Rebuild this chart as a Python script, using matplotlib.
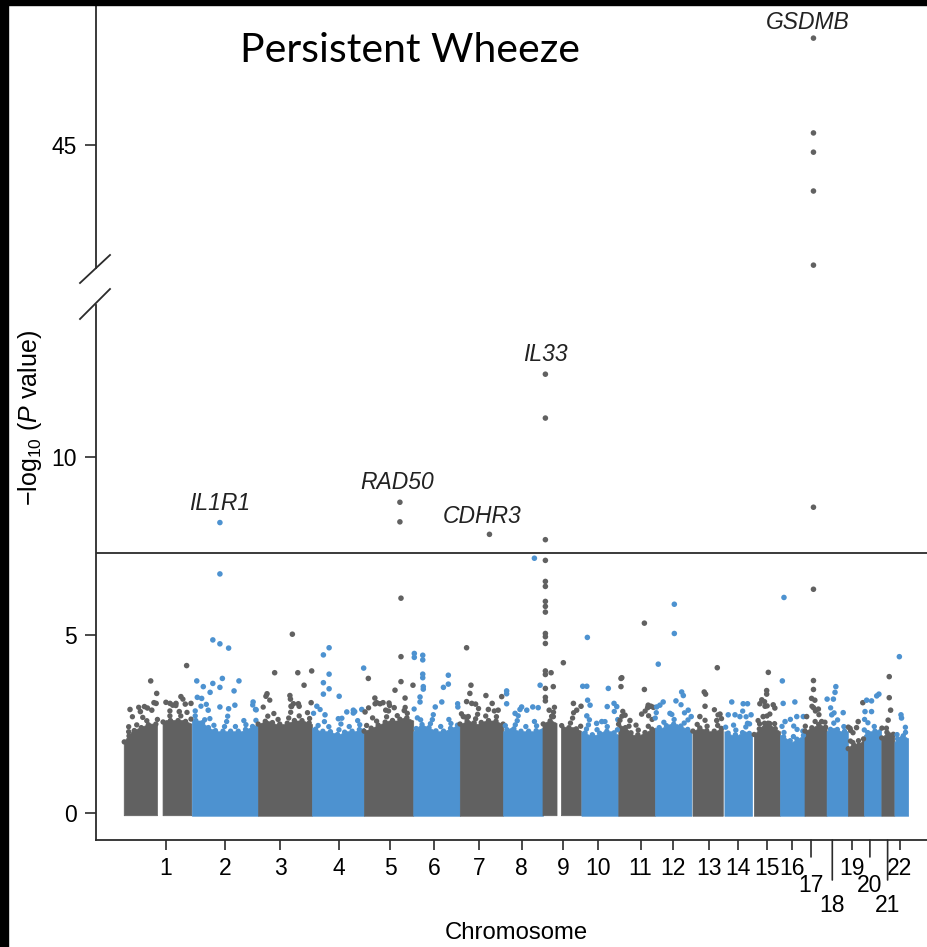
import numpy as np
import matplotlib.pyplot as plt
from matplotlib.lines import Line2D
from matplotlib.patches import Rectangle

plt.rcParams['font.family'] = 'Liberation Sans'
plt.rcParams['mathtext.fontset'] = 'custom'
plt.rcParams['mathtext.rm'] = 'Liberation Sans'
plt.rcParams['mathtext.it'] = 'Liberation Sans:italic'

# hg19 chromosome lengths (Mb)
chrom_len = [249.25, 243.20, 198.02, 191.15, 180.92, 171.12, 159.14, 146.36, 141.21, 135.53, 135.01,
             133.85, 115.17, 107.35, 102.53, 90.35, 81.20, 78.08, 59.13, 63.03, 48.13, 51.30]
# first typed position on each chromosome (Mb)
first_snp = [0.7, 0.1, 0.1, 0.1, 0.1, 0.2, 0.1, 0.2, 0.2, 0.1, 0.2,
             0.2, 4.0, 6.0, 7.0, 0.1, 0.1, 0.1, 0.3, 0.1, 1.0, 1.0]
# stretches with no SNPs (centromere / heterochromatin)
gap_chr = [1, 9]
gap_start = [123.0, 52.0]
gap_end = [143.0, 68.0]

# top of the dense SNP cloud, evenly spaced along each chromosome
cloud_top = [
    [2.0, 2.3, 2.4, 2.5, 2.5, 2.6, 2.6, 2.6, 2.5],
    [2.6, 2.6, 2.4, 2.3, 2.3, 2.3, 2.3, 2.4, 2.5],
    [2.5, 2.6, 2.5, 2.5, 2.6, 2.6, 2.5],
    [2.4, 2.3, 2.3, 2.2, 2.3, 2.3, 2.4],
    [2.3, 2.4, 2.5, 2.6, 2.6, 2.7, 2.6],
    [2.3, 2.5, 2.4, 2.3, 2.3, 2.4, 2.5],
    [2.5, 2.6, 2.5, 2.6, 2.6, 2.5],
    [2.3, 2.4, 2.3, 2.3, 2.3, 2.4],
    [2.5, 2.6, 2.5, 2.4, 2.4, 2.3],
    [2.3, 2.2, 2.2, 2.3, 2.3, 2.2],
    [2.5, 2.4, 2.2, 2.2, 2.3, 2.4],
    [2.4, 2.4, 2.5, 2.5, 2.4, 2.3],
    [2.3, 2.4, 2.3, 2.3, 2.4],
    [2.3, 2.2, 2.2, 2.3, 2.2],
    [2.2, 2.4, 2.6, 2.4, 2.3],
    [2.2, 2.1, 2.0, 2.1, 2.2],
    [2.3, 2.4, 2.5, 2.4],
    [2.3, 2.4, 2.3, 2.3],
    [1.8, 2.0, 1.9, 2.1],
    [2.2, 2.3, 2.3, 2.4],
    [2.1, 2.3, 2.2],
    [2.0, 2.2, 2.1],
]

# SNPs standing out of the cloud: chromosome, position (Mb), -log10 P
hit_chr = ([1] * 18 + [2] * 21 + [3] * 14 + [4] * 16 + [5] * 19 + [6] * 16 + [7] * 14 + [8] * 11
           + [9] * 25 + [10] * 12 + [11] * 12 + [12] * 12 + [13] * 7 + [14] * 8 + [15] * 10
           + [16] * 7 + [17] * 15 + [18] * 6 + [19] * 4 + [20] * 6 + [21] * 4 + [22] * 3)
hit_pos = [22, 60, 75, 86, 98, 102, 110, 120, 118, 154, 169, 179, 191, 203, 209, 225, 230, 246,
           103, 103, 77, 103, 135, 18, 42, 77, 112, 103, 67, 20, 36, 155, 173, 103, 135, 158, 225, 234, 60,
           126, 61, 146, 197, 169, 29, 33, 117, 119, 121, 151, 195, 130, 148,
           63, 42, 63, 42, 63, 42, 100, 18, 48, 128, 152, 190, 183, 97, 152, 157,
           132, 132, 136, 136, 16, 180, 136, 114, 151, 40, 41, 59, 92, 80, 111, 148, 4, 47, 70,
           4, 4, 35, 35, 35, 35, 37, 37, 129, 129, 111, 25, 25, 105, 81, 164,
           109, 25, 41, 25, 44, 58, 96, 119, 141, 154, 13, 31, 105, 37,
           115, 13, 13, 13, 44, 62, 136, 109, 129, 68, 87,
           9, 9, 9, 9, 9, 9, 9, 9, 9, 9, 9, 9, 9, 9, 9, 9, 9, 30, 38, 75, 112, 140, 124, 23, 38,
           22, 5, 20, 23, 32, 99, 95, 130, 20, 56, 75, 120,
           96, 10, 13, 10, 96, 110, 108, 86, 25, 43, 120, 129,
           71, 71, 12, 98, 104, 18, 30, 6, 77, 133, 122, 55,
           95, 47, 52, 50, 105, 31, 93,
           33, 75, 91, 20, 45, 104, 63, 91,
           60, 54, 54, 29, 48, 78, 84, 41, 60, 36,
           15, 9, 12, 55, 19, 62, 86,
           33, 33, 33, 33, 33, 33, 33, 33, 33, 26, 38, 33, 8, 63, 51,
           2, 25, 31, 34, 19, 61,
           8, 32, 38, 55,
           10, 28, 47, 55, 4, 28,
           30, 30, 35, 26,
           19, 25, 27]
hit_logp = [2.91, 2.85, 2.99, 2.95, 3.71, 2.89, 3.10, 3.36, 3.08, 3.11, 3.08, 3.03, 3.08, 2.85, 3.27, 3.06, 4.14, 3.08,
            8.15, 6.71, 4.86, 4.75, 4.63, 3.71, 3.55, 3.64, 3.78, 3.53, 3.39, 3.25, 3.22, 3.43, 3.71, 2.98, 2.93, 3.03, 3.12, 2.91, 2.89,
            5.02, 3.94, 3.94, 3.99, 3.59, 3.28, 3.35, 3.30, 3.20, 3.00, 3.00, 3.10, 3.07, 3.07,
            4.64, 4.44, 3.90, 3.66, 3.49, 3.34, 3.28, 3.00, 2.76, 2.84, 2.81, 4.07, 2.91, 2.65, 2.89, 2.85,
            8.72, 8.17, 6.03, 4.39, 3.78, 3.59, 3.69, 3.45, 3.23, 3.23, 3.07, 3.07, 3.09, 2.89, 2.96, 2.88, 2.84, 3.10, 3.10,
            4.48, 4.37, 4.43, 4.30, 3.90, 3.80, 3.55, 3.48, 3.87, 3.62, 3.53, 3.26, 3.12, 3.12, 2.98, 2.98,
            7.82, 4.64, 3.59, 3.13, 3.08, 3.06, 3.30, 3.08, 2.89, 3.27, 2.71, 2.71, 2.91, 3.36,
            7.15, 3.43, 3.35, 3.07, 2.80, 2.91, 3.59, 2.98, 2.96, 2.98, 2.89,
            12.31, 11.08, 7.67, 7.09, 6.50, 6.36, 5.94, 5.80, 5.64, 5.04, 4.95, 4.76, 3.99, 3.89, 3.50, 3.25, 3.15,
            3.94, 3.55, 4.22, 3.08, 3.00, 2.89, 2.89, 2.71,
            4.93, 3.56, 3.56, 3.17, 3.03, 3.50, 2.99, 2.99, 2.73, 2.52, 2.57, 3.08,
            5.33, 3.78, 3.80, 3.55, 3.47, 3.03, 2.96, 2.78, 2.75, 2.60, 3.00, 2.97,
            5.86, 5.04, 4.18, 3.40, 3.30, 3.03, 3.12, 2.98, 3.15, 2.71, 2.89, 2.80,
            4.08, 3.40, 3.34, 3.00, 2.78, 2.71, 2.60,
            3.12, 3.07, 3.07, 2.76, 2.76, 2.76, 2.71, 2.52,
            3.95, 3.44, 3.34, 3.07, 3.00, 3.04, 2.95, 2.71, 2.52, 3.18,
            6.05, 3.71, 3.08, 3.12, 2.57, 2.71, 2.71,
            48.00, 45.34, 44.80, 43.71, 41.63, 8.58, 6.28, 3.72, 3.47, 3.22, 3.17, 2.96, 2.71, 2.57, 2.92,
            3.20, 3.20, 3.39, 3.55, 2.76, 2.82,
            2.38, 2.40, 2.57, 3.10,
            3.17, 3.15, 3.29, 3.34, 2.85, 2.85,
            3.83, 3.24, 2.89, 2.61,
            4.39, 2.76, 2.67]

# chromosome tick positions (Mb into each chromosome)
tick_pos = [154, 122, 81, 99, 96, 76, 70, 68, 75, 62, 82, 67, 66, 55, 54, 45, 24, 21, 14, 22, 24, 21]
# labels pushed down one or two rows where the chromosomes get narrow
tick_row = [0] * 16 + [1, 2, 0, 1, 2, 0]

gene_names = ['IL1R1', 'RAD50', 'CDHR3', 'IL33', 'GSDMB']
gene_chr = [2, 5, 7, 9, 17]
gene_pos = [103, 132, 109, 9, 33]
gene_logp = [8.15, 8.72, 7.82, 12.31, 48.00]
gene_dx = [0, -2, -5, 0, -4]
gene_dy = [14, 14, 12.5, 14, 11.5]

sig_line = 7.3
colors = ['#616161', '#4d92d0']
ink = '#2b2b2b'

W, H = 928, 947
def fx(px):
    return px / W
def fy(py):
    return 1 - py / H

offsets = np.concatenate([[0], np.cumsum(chrom_len)[:-1]])
hit_x = np.array([offsets[c - 1] + p for c, p in zip(hit_chr, hit_pos)])
hit_y = np.array(hit_logp)
hit_col = [colors[(c - 1) % 2] for c in hit_chr]

fig = plt.figure(figsize=(W / 100, H / 100), dpi=100)
ax = fig.add_axes([fx(96), fy(840), 1 - fx(96), fy(305) - fy(840)])
ax_top = fig.add_axes([fx(96), fy(268), 1 - fx(96), fy(0) - fy(268)])

xlim = (-103, 2954)
for a in (ax, ax_top):
    a.set_xlim(*xlim)
    a.spines['top'].set_visible(False)
    a.spines['right'].set_visible(False)
    a.spines['left'].set_linewidth(1.3)
    a.spines['left'].set_color(ink)
    a.tick_params(axis='y', length=8, width=1.2, color=ink, labelsize=16.5, pad=6)
ax.set_ylim(-0.75, 14.25)
ax_top.set_ylim(41.55, 49.07)
ax_top.spines['bottom'].set_visible(False)
ax_top.set_xticks([])
ax.set_yticks([0, 5, 10])
ax_top.set_yticks([45])
ax.spines['bottom'].set_linewidth(1.3)
ax.spines['bottom'].set_color(ink)

# dense cloud of non-significant SNPs, with a beaded fringe along its top
# (lift above the cloud, spacing between beads, dash phase)
fringe = [(0.0, 1.4, 0.0), (0.13, 2.0, 0.7), (0.27, 3.2, 1.9), (0.42, 5.5, 3.1), (0.6, 9.0, 5.3)]
for i in range(22):
    start = offsets[i]
    col = colors[i % 2]
    env_x = start + np.linspace(first_snp[i], chrom_len[i], len(cloud_top[i]))
    xs = np.linspace(start + first_snp[i], start + chrom_len[i], 400)
    ys = np.interp(xs, env_x, cloud_top[i])
    keep = np.ones(xs.size, bool)
    for gc, gs, ge in zip(gap_chr, gap_start, gap_end):
        if gc == i + 1:
            keep &= ~((xs > start + gs) & (xs < start + ge))
    ax.fill_between(xs, -0.07, ys, where=keep, facecolor=col, edgecolor=col, lw=0.5)
    for lift, gap, phase in fringe:
        ax.plot(xs, np.ma.masked_where(~keep, ys + lift), color=col, lw=3.9,
                ls=(phase + i * 0.7, (0.01, gap)), dash_capstyle='round', zorder=2)

for a in (ax, ax_top):
    a.scatter(hit_x, hit_y, s=16, c=hit_col, lw=0, zorder=3)

ax.axhline(sig_line, color=ink, lw=1.3, zorder=2)

for name, c, p, lp, dx, dy in zip(gene_names, gene_chr, gene_pos, gene_logp, gene_dx, gene_dy):
    target = ax_top if lp > 20 else ax
    target.annotate(name, (offsets[c - 1] + p, lp), xytext=(dx, dy), textcoords='offset points',
                    ha='center', va='center', style='italic', size=16.5, color='#222222',
                    annotation_clip=False)

# chromosome ticks, staggered at the crowded end
tick_x = offsets + np.array(tick_pos)
labels = [str(i + 1) for i in range(22)]
ax.set_xticks([x for x, r in zip(tick_x, tick_row) if r == 0],
              [l for l, r in zip(labels, tick_row) if r == 0])
ax.tick_params(axis='x', length=7.5, width=1.2, color=ink, labelsize=16.5, pad=5)
for x, l, r in zip(tick_x, labels, tick_row):
    if r == 0:
        continue
    tick_len = 12.2 if r == 1 else 28.8
    text_off = 32.4 if r == 1 else 46.8
    ax.annotate('', xy=(x, 0), xycoords=('data', 'axes fraction'), xytext=(0, -tick_len),
                textcoords='offset points',
                arrowprops=dict(arrowstyle='-', lw=1.2, color=ink, shrinkA=0, shrinkB=0))
    ax.annotate(l, xy=(x, 0), xycoords=('data', 'axes fraction'), xytext=(0, -text_off),
                textcoords='offset points', ha='center', va='center', size=16.5)

# axis break marks
for y0, y1 in [(283, 255), (319, 289)]:
    fig.add_artist(Line2D([fx(80), fx(110)], [fy(y0), fy(y1)], color=ink, lw=1.3))

fig.text(fx(30), fy(418), '\u2212log$_{10}$ ($P$ value)', rotation=90, ha='center', va='center', size=18)
fig.text(fx(516), fy(933), 'Chromosome', ha='center', va='center', size=17.2)
fig.text(fx(410), fy(62), 'Persistent Wheeze', family='Lato', size=29.5, ha='center', va='baseline')

# dark frame along the top and left edges
fig.add_artist(Rectangle((0, fy(5)), 1, 5 / H, transform=fig.transFigure, color='black', zorder=20))
fig.add_artist(Rectangle((0, 0), 8 / W, 1, transform=fig.transFigure, color='black', zorder=20))

fig.savefig('out.png', dpi=100)
